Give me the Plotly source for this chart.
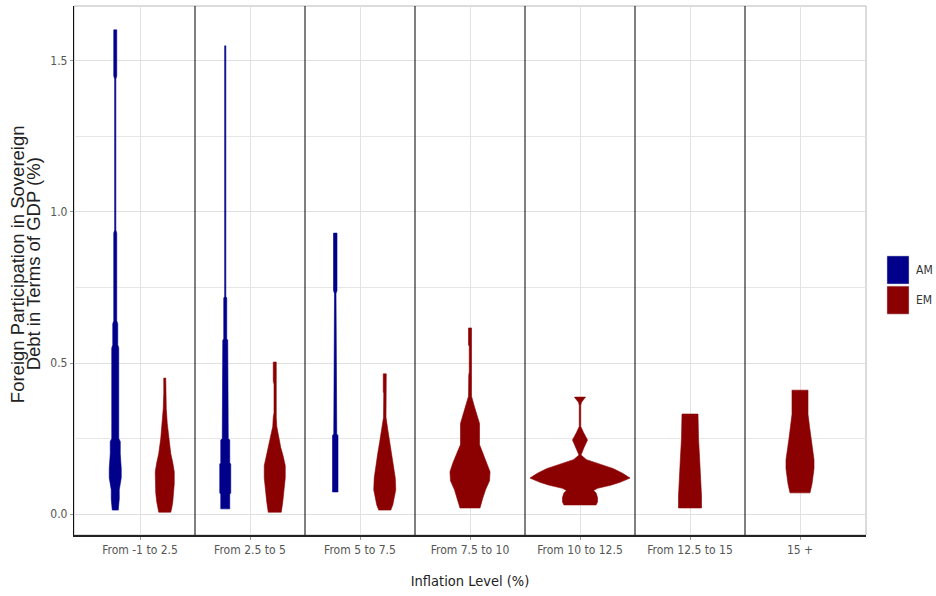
import plotly.graph_objects as go

# ---------------- data ----------------
CATEGORIES = ["From -1 to 2.5", "From 2.5 to 5", "From 5 to 7.5", "From 7.5 to 10",
              "From 10 to 12.5", "From 12.5 to 15", "15 +"]
GROUPS = ["AM", "EM"]
COLORS = {"AM": "#00008B", "EM": "#8B0000"}

Y_TICKS = [0.0, 0.5, 1.0, 1.5]
Y_TICK_TEXT = ["0.0", "0.5", "1.0", "1.5"]
Y_TITLE_LINES = ["Foreign Participation in Sovereign", "Debt in Terms of GDP (%)"]
X_TITLE = "Inflation Level (%)"

# Violin density profiles: participation level (% of GDP) and relative density (max = 1)
AM1_Y = [1.603, 1.45, 1.44, 0.94, 0.93, 0.64, 0.63, 0.56, 0.55, 0.45, 0.40, 0.30, 0.25, 0.24, 0.20, 0.15, 0.12, 0.10, 0.08, 0.05, 0.03, 0.013]
AM1_D = [0.03, 0.03, 0.012, 0.012, 0.03, 0.03, 0.05, 0.05, 0.07, 0.07, 0.06, 0.07, 0.07, 0.10, 0.10, 0.12, 0.12, 0.10, 0.08, 0.08, 0.07, 0.06]

EM1_Y = [0.45, 0.40, 0.35, 0.30, 0.25, 0.20, 0.17, 0.14, 0.10, 0.07, 0.04, 0.02, 0.006]
EM1_D = [0.02, 0.02, 0.03, 0.05, 0.08, 0.12, 0.16, 0.19, 0.19, 0.18, 0.16, 0.14, 0.12]

AM2_Y = [1.55, 0.72, 0.715, 0.58, 0.575, 0.47, 0.465, 0.25, 0.245, 0.17, 0.165, 0.07, 0.065, 0.017]
AM2_D = [0.012, 0.012, 0.03, 0.03, 0.05, 0.05, 0.06, 0.06, 0.09, 0.09, 0.11, 0.11, 0.09, 0.09]

EM2_Y = [0.503, 0.44, 0.43, 0.335, 0.32, 0.29, 0.26, 0.22, 0.19, 0.16, 0.12, 0.08, 0.04, 0.006]
EM2_D = [0.03, 0.03, 0.015, 0.015, 0.03, 0.04, 0.07, 0.12, 0.17, 0.21, 0.21, 0.19, 0.16, 0.13]

AM3_Y = [0.930, 0.74, 0.73, 0.44, 0.43, 0.265, 0.26, 0.073]
AM3_D = [0.035, 0.035, 0.015, 0.015, 0.03, 0.03, 0.055, 0.055]

EM3_Y = [0.464, 0.405, 0.40, 0.32, 0.28, 0.24, 0.20, 0.16, 0.12, 0.08, 0.05, 0.03, 0.013]
EM3_D = [0.03, 0.03, 0.02, 0.025, 0.06, 0.10, 0.14, 0.18, 0.21, 0.22, 0.19, 0.16, 0.12]

EM4_Y = [0.616, 0.56, 0.555, 0.47, 0.46, 0.39, 0.36, 0.33, 0.30, 0.23, 0.20, 0.17, 0.14, 0.11, 0.08, 0.05, 0.02]
EM4_D = [0.03, 0.03, 0.015, 0.015, 0.025, 0.03, 0.08, 0.14, 0.19, 0.19, 0.26, 0.34, 0.40, 0.39, 0.31, 0.25, 0.20]

EM5_Y = [0.387, 0.38, 0.37, 0.36, 0.29, 0.27, 0.245, 0.22, 0.195, 0.18, 0.165, 0.15, 0.135, 0.119, 0.105, 0.096, 0.085, 0.078, 0.07, 0.055, 0.04, 0.03]
EM5_D = [0.11, 0.08, 0.03, 0.015, 0.015, 0.07, 0.15, 0.08, 0.02, 0.13, 0.40, 0.67, 0.85, 1.00, 0.80, 0.63, 0.35, 0.27, 0.32, 0.35, 0.35, 0.32]

EM6_Y = [0.331, 0.30, 0.25, 0.19, 0.11, 0.06, 0.02]
EM6_D = [0.16, 0.16, 0.17, 0.19, 0.22, 0.23, 0.23]

EM7_Y = [0.41, 0.33, 0.29, 0.25, 0.21, 0.18, 0.15, 0.12, 0.10, 0.07]
EM7_D = [0.16, 0.16, 0.19, 0.22, 0.26, 0.28, 0.28, 0.26, 0.24, 0.20]

VIOLINS = [
    ("AM", 0, AM1_Y, AM1_D), ("EM", 0, EM1_Y, EM1_D),
    ("AM", 1, AM2_Y, AM2_D), ("EM", 1, EM2_Y, EM2_D),
    ("AM", 2, AM3_Y, AM3_D), ("EM", 2, EM3_Y, EM3_D),
    ("EM", 3, EM4_Y, EM4_D),
    ("EM", 4, EM5_Y, EM5_D),
    ("EM", 5, EM6_Y, EM6_D),
    ("EM", 6, EM7_Y, EM7_D),
]

# ---------------- figure ----------------
MAX_WIDTH = 0.91      # full violin width (x units) at relative density 1
DODGE = 0.225

FONT_N = "Liberation Sans Narrow, Arial Narrow, DejaVu Sans Condensed, sans-serif"
FONT = "Liberation Sans, Arial, sans-serif"

fig = go.Figure()

groups_per_cat = {}
for g, ci, _, _ in VIOLINS:
    groups_per_cat.setdefault(ci, []).append(g)

for g, ci, ys, ds in VIOLINS:
    pos = ci + 1
    if len(groups_per_cat[ci]) > 1:
        pos += -DODGE if g == "AM" else DODGE
    right = [pos + d * MAX_WIDTH / 2 for d in ds]
    left = [pos - d * MAX_WIDTH / 2 for d in ds]
    xs = right + left[::-1] + [right[0]]
    yy = list(ys) + list(ys)[::-1] + [ys[0]]
    fig.add_trace(go.Scatter(
        x=xs, y=yy, mode="lines", fill="toself",
        fillcolor=COLORS[g], line=dict(color=COLORS[g], width=0.6),
        showlegend=False, hoverinfo="skip"))

# separators between inflation bins
for i in range(len(CATEGORIES) - 1):
    fig.add_shape(type="line", xref="x", yref="paper", x0=i + 1.5, x1=i + 1.5,
                  y0=0, y1=1, line=dict(color="black", width=1), layer="above")

# panel border (light grey)
fig.add_shape(type="rect", xref="paper", yref="paper", x0=0, x1=1, y0=0, y1=1,
              line=dict(color="#b8b8b8", width=1), layer="below")

# manual legend
for k, g in enumerate(GROUPS):
    y_top = 0.5275 - k * 0.057
    fig.add_shape(type="rect", xref="paper", yref="paper",
                  x0=1.0265, x1=1.0543, y0=y_top - 0.053, y1=y_top,
                  fillcolor=COLORS[g], line=dict(color="#cfcfcf", width=0.5))
    fig.add_annotation(xref="paper", yref="paper", x=1.061, y=y_top - 0.0265,
                       text=g, showarrow=False, xanchor="left", yanchor="middle",
                       font=dict(family=FONT_N, size=12, color="#333333"))

# y-axis title (two lines)
for k, line in enumerate(Y_TITLE_LINES):
    fig.add_annotation(xref="paper", yref="paper", x=-0.072 + k * 0.0205, y=0.512,
                       text=line, textangle=-90, showarrow=False,
                       xanchor="center", yanchor="middle",
                       font=dict(family=FONT, size=18.5, color="#222222"))

fig.update_layout(
    width=936, height=596,
    margin=dict(l=74, r=70, t=6, b=61, autoexpand=False),
    paper_bgcolor="white", plot_bgcolor="white",
    showlegend=False,
    xaxis=dict(
        range=[0.4, len(CATEGORIES) + 0.6],
        tickvals=list(range(1, len(CATEGORIES) + 1)), ticktext=CATEGORIES,
        showgrid=True, gridcolor="#e2e2e2", gridwidth=1,
        zeroline=False, showline=True, linecolor="#222222", linewidth=1.5,
        ticks="outside", ticklen=3, tickcolor="#999999",
        tickfont=dict(family=FONT_N, size=12, color="#555555"),
        title=dict(text=X_TITLE, standoff=20,
                   font=dict(family=FONT_N, size=14.5, color="#222222")),
    ),
    yaxis=dict(
        range=[-0.0695, 1.682],
        tickvals=Y_TICKS, ticktext=Y_TICK_TEXT,
        showgrid=True, gridcolor="#e0e0e0", gridwidth=1,
        minor=dict(dtick=0.25, tick0=0, showgrid=True, gridcolor="#e6e6e6", gridwidth=0.8),
        zeroline=False, showline=True, linecolor="#111111", linewidth=1.2,
        ticks="outside", ticklen=3, tickcolor="#999999",
        tickfont=dict(family=FONT_N, size=12, color="#555555"),
    ),
)

fig.write_html("out.html", config={"displayModeBar": False},
               post_script="document.body.style.margin='0';")
